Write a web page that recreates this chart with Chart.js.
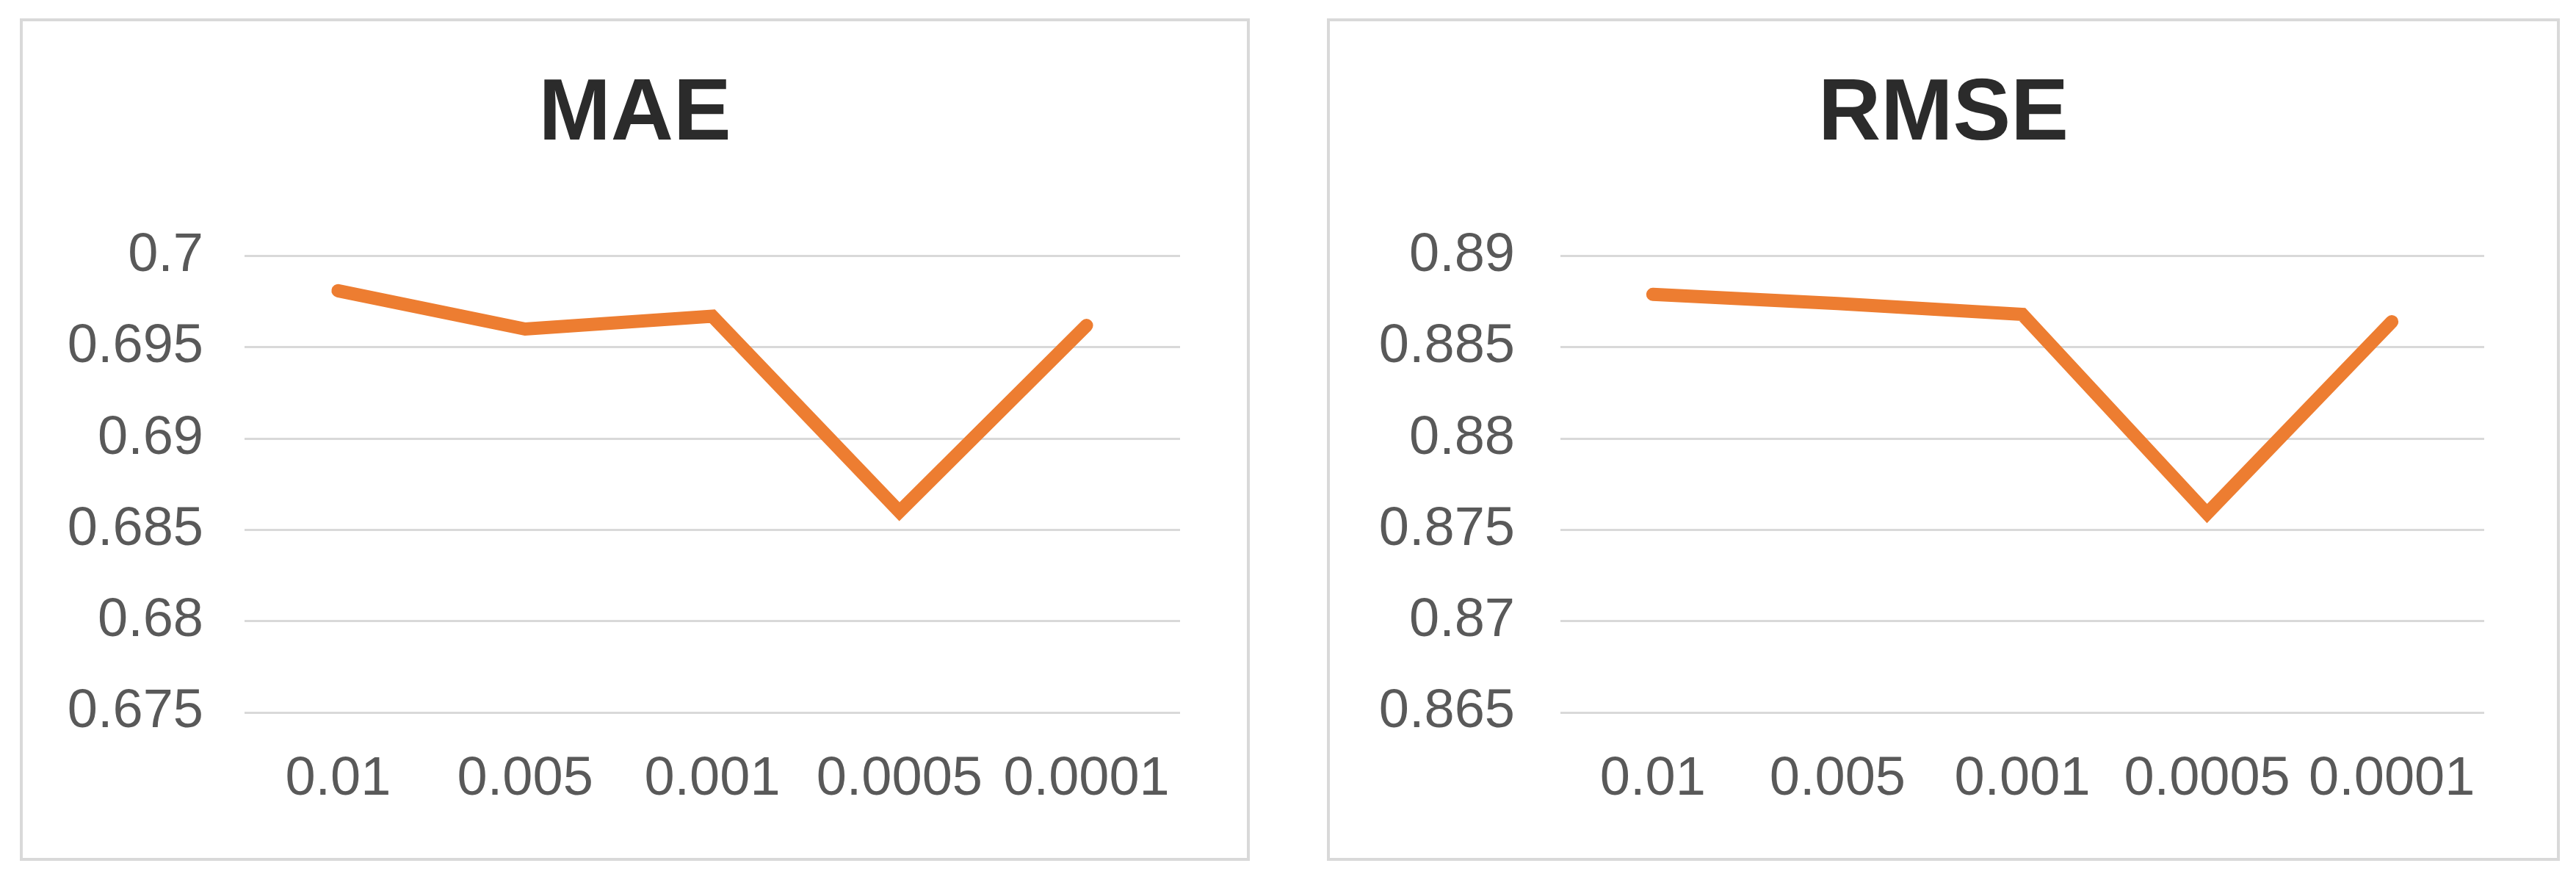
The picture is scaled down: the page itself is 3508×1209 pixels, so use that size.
<!DOCTYPE html>
<html>
<head>
<meta charset="utf-8">
<script src="https://cdn.jsdelivr.net/npm/chart.js@4/dist/chart.umd.min.js"></script>
<style>
  html, body { margin: 0; padding: 0; background: #fff; }
  body { width: 3508px; height: 1209px; position: relative; overflow: hidden; }
  .panel { position: absolute; top: 25px; height: 1147px; box-sizing: border-box; border: 4px solid #d9d9d9; }
  .holder { position: absolute; top: 25px; height: 1147px; }
</style>
</head>
<body>
<div class="panel" style="left:27px;width:1675px"></div>
<div class="panel" style="left:1807px;width:1679px"></div>
<div class="holder" style="left:27px;width:1675px"><canvas id="maeChart"></canvas></div>
<div class="holder" style="left:1807px;width:1679px"><canvas id="rmseChart"></canvas></div>
<script>
const learningRates = ['0.01', '0.005', '0.001', '0.0005', '0.0001'];
const maeValues = [0.6981, 0.6960, 0.6967, 0.6860, 0.6962];
const rmseValues = [0.8879, 0.8874, 0.8868, 0.8759, 0.8864];
const maeTicks = [0.675, 0.68, 0.685, 0.69, 0.695, 0.7];
const rmseTicks = [0.865, 0.87, 0.875, 0.88, 0.885, 0.89];

const tickFont = { family: '"Liberation Sans", Arial', size: 74 };

function createChart(id, title, values, ticks, axisWidth, tickPad, rightPad) {
    const ctx = document.getElementById(id).getContext('2d');
    return new Chart(ctx, {
        type: 'line',
        data: {
            labels: learningRates,
            datasets: [{
                label: title,
                data: values,
                borderColor: '#ED7D31',
                borderWidth: 18,
                borderCapStyle: 'round',
                borderJoinStyle: 'miter',
                pointRadius: 0,
                tension: 0,
                fill: false
            }]
        },
        options: {
            responsive: true,
            maintainAspectRatio: false,
            animation: false,
            devicePixelRatio: 1,
            layout: { padding: 0 },
            plugins: {
                legend: { display: false },
                tooltip: { enabled: false },
                title: {
                    display: true,
                    text: title,
                    color: '#2b2b2b',
                    font: { family: '"Liberation Sans", Arial', size: 118, weight: 'bold' },
                    padding: { top: 62, bottom: 120 }
                }
            },
            scales: {
                x: {
                    offset: true,
                    grid: { display: false, drawTicks: false },
                    border: { display: false },
                    ticks: { color: '#595959', font: tickFont, padding: 47, maxRotation: 0, autoSkip: false },
                    afterFit: (scale) => { scale.height = 202; }
                },
                y: {
                    min: ticks[0],
                    max: ticks[ticks.length - 1],
                    afterBuildTicks: (scale) => { scale.ticks = ticks.map(v => ({ value: v })); },
                    grid: { color: '#d9d9d9', lineWidth: 3, drawTicks: false },
                    border: { display: false },
                    ticks: {
                        color: '#595959',
                        font: tickFont,
                        padding: tickPad,
                        callback: (v) => String(+v.toFixed(3))
                    },
                    afterFit: (scale) => { scale.width = axisWidth; }
                },
                // empty right-hand spacer so the title stays centred on the panel
                spacer: {
                    position: 'right',
                    grid: { display: false, drawTicks: false },
                    border: { display: false },
                    ticks: { display: false },
                    afterFit: (scale) => { scale.width = rightPad; }
                }
            }
        }
    });
}

createChart('maeChart', 'MAE', maeValues, maeTicks, 306, 56, 95);
createChart('rmseChart', 'RMSE', rmseValues, rmseTicks, 318, 62, 103);
</script>
</body>
</html>
